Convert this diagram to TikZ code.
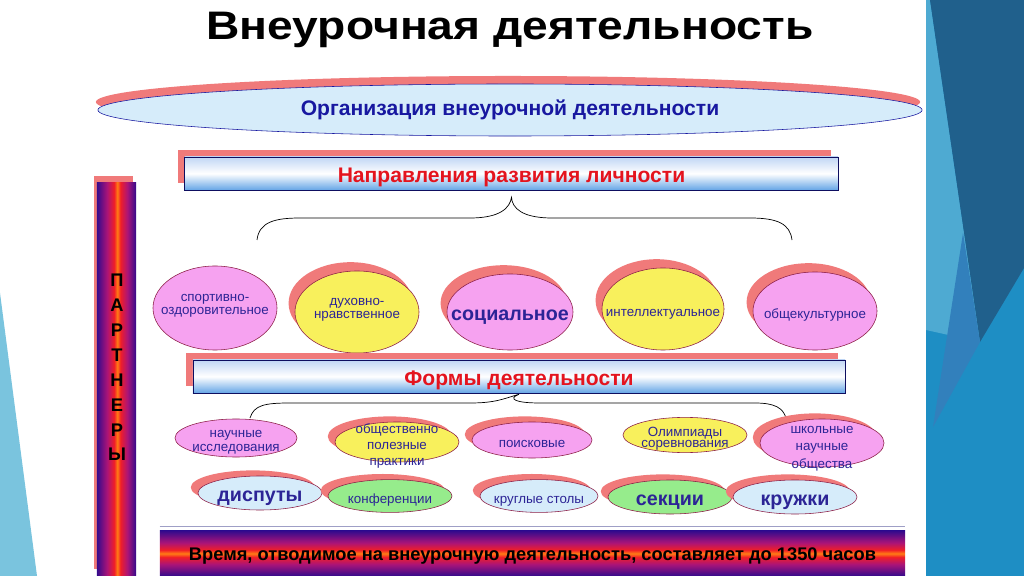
\documentclass[tikz,border=0pt]{standalone}
\usepackage{fontspec}
\setmainfont{Liberation Sans}
\newfontfamily\zagolovok[FakeStretch=1.16]{Liberation Sans}
\usetikzlibrary{shapes.geometric,shadows}

\definecolor{rozov}{RGB}{246,162,240}
\definecolor{zhelt}{RGB}{248,240,92}
\definecolor{goluboj}{RGB}{214,236,250}
\definecolor{zelen}{RGB}{150,236,140}
\definecolor{ten}{RGB}{240,122,122}
\definecolor{obvod}{RGB}{140,30,70}
\definecolor{sinij}{RGB}{44,36,150}
\definecolor{temnosin}{RGB}{24,24,160}
\definecolor{krasn}{RGB}{228,20,30}
\definecolor{polverh}{RGB}{192,214,245}
\definecolor{polniz}{RGB}{100,165,230}
\definecolor{barpurple}{RGB}{52,10,140}
\definecolor{barmagenta}{RGB}{170,20,120}
\definecolor{barred}{RGB}{240,30,40}
\definecolor{barorange}{RGB}{255,125,20}
\definecolor{fonsin}{RGB}{30,142,196}
\definecolor{fontemn}{RGB}{32,96,140}
\definecolor{fonsvet}{RGB}{78,170,210}
\definecolor{fonsred}{RGB}{50,128,188}
\definecolor{fonlevo}{RGB}{122,196,222}

\pgfdeclarehorizontalshading{partnershade}{100bp}{color(0bp)=(barpurple); color(25bp)=(barpurple);
  color(38bp)=(barmagenta); color(47bp)=(barred); color(51bp)=(barorange); color(55bp)=(barred);
  color(64bp)=(barmagenta); color(75bp)=(barpurple); color(100bp)=(barpurple)}
\pgfdeclareverticalshading{timeshade}{100bp}{color(0bp)=(barpurple); color(25bp)=(barpurple);
  color(38bp)=(barmagenta); color(46bp)=(barred); color(50bp)=(barorange); color(54bp)=(barred);
  color(62bp)=(barmagenta); color(75bp)=(barpurple); color(100bp)=(barpurple)}

% текст внутри овала не растягивает овал
\newcommand\odna[1]{\makebox[0pt]{#1}}
\newcommand\stroki[1]{\makebox[0pt]{\begin{tabular}{@{}c@{}}#1\end{tabular}}}

\begin{document}
\begin{tikzpicture}[x=0.025cm, y=-0.025cm,
    oval/.style={ellipse, draw=obvod, line width=0.4pt, inner sep=0pt,
      text=sinij, font=\fontsize{9.5}{9}\selectfont, text height=10.6pt, text depth=0pt},
    krup/.style={font=\fontsize{14}{14}\selectfont\bfseries, text height=11.6pt},
    sh/.style={drop shadow={shadow xshift=-0.16cm, shadow yshift=0.22cm, fill=ten, opacity=1}},
    shm/.style={drop shadow={shadow xshift=-0.18cm, shadow yshift=0.14cm, fill=ten, opacity=1}},
    polosa/.style={draw=temnosin!60!black, line width=0.5pt, top color=polverh,
      bottom color=polniz, middle color=white, inner sep=0pt, text=krasn,
      minimum height=0.83cm, font=\fontsize{15}{15}\selectfont\bfseries,
      text height=13.3pt, text depth=0pt,
      drop shadow={shadow xshift=-0.18cm, shadow yshift=0.18cm, fill=ten, opacity=1}},
    skobka/.style={line width=0.5pt, black}]
  \useasboundingbox (0,0) rectangle (1024,576);
  \fill[white] (0,0) rectangle (1024,576);
  % фон слайда
  \fill[fonlevo] (0,293) -- (37,576) -- (0,576) -- cycle;
  \fill[fonsin] (926,0) rectangle (1024,576);
  \fill[fonsvet] (926,0) -- (930,0) -- (980,342) -- (926,330) -- cycle;
  \fill[fontemn] (930,0) -- (1024,0) -- (1024,268) -- (980,342) -- cycle;
  \fill[fonsred] (963,233) -- (980,342) -- (933,427) -- cycle;

  % заголовок
  \node[font=\zagolovok\fontsize{28.3}{28.3}\selectfont\bfseries] (title) at (510,30) {Внеурочная деятельность};

  % организация
  \node[ellipse, draw=temnosin, fill=goluboj, minimum width=20.6cm, minimum height=1.3cm,
    drop shadow={shadow xshift=-0.05cm, shadow yshift=0.2cm, fill=ten, opacity=1},
    font=\fontsize{15}{15}\selectfont\bfseries, text=temnosin] (org) at (510,110)
    {Организация внеурочной деятельности};

  % направления
  \node[polosa, minimum width=16.33cm] (napr) at (511.5,173.5) {Направления развития личности};
  \coordinate (n1) at ([yshift=-0.17cm]napr.south);
  \draw[skobka] (257,240) .. controls (259,222) and (275,218) .. (300,218) -- (470,218)
    .. controls (500,218) and (510,208) .. (n1) .. controls (512,208) and (522,218) .. (552,218)
    -- (750,218) .. controls (778,218) and (790,224) .. (792,240);

  % партнеры
  \node[shade, shading=partnershade, minimum width=0.98cm, minimum height=9.83cm, inner sep=0pt,
    drop shadow={shadow xshift=-0.08cm, shadow yshift=0.18cm, fill=ten, opacity=1}]
    (partn) at (116.5,379.5) {};
  \node[font=\fontsize{13}{17.7}\selectfont\bfseries, align=center, inner sep=0pt] (partntxt)
    at (117,367.5) {П\\А\\Р\\Т\\Н\\Е\\Р\\Ы};

  % направления развития
  \node[oval, fill=rozov, minimum width=3.1cm, minimum height=2.1cm, text height=0.6pt]
    (sport) at (215,308) {\stroki{спортивно-\\оздоровительное}};
  \node[oval, sh, fill=zhelt, minimum width=3.1cm, minimum height=2.05cm, text height=0.6pt]
    (duh) at (357,312) {\stroki{духовно-\\нравственное}};
  \node[oval, sh, krup, fill=rozov, minimum width=3.15cm, minimum height=1.9cm] (soc) at (510,312)
    {\odna{социальное}};
  \node[oval, sh, fill=zhelt, minimum width=3.05cm, minimum height=2.05cm] (intel) at (663,309)
    {\odna{интеллектуальное}};
  \node[oval, sh, fill=rozov, minimum width=3.1cm, minimum height=1.95cm] (obsh) at (815,311)
    {\odna{общекультурное}};

  % формы
  \node[polosa, minimum width=16.3cm] (formy) at (519,376.5) {Формы деятельности};
  \coordinate (n2) at ([yshift=-0.02cm]formy.south);
  \draw[skobka] (250,418) .. controls (254,405) and (265,403) .. (290,403) -- (470,403)
    .. controls (495,403) and (503,399) .. (n2) .. controls (507,399) and (516,403) .. (540,403)
    -- (755,403) .. controls (775,403) and (783,408) .. (786,418);

  \node[oval, fill=rozov, minimum width=3.05cm, minimum height=0.95cm, text height=10.35pt,
    font=\fontsize{9.5}{10}\selectfont] (nauch) at (236,438) {\stroki{научные\\исследования}};
  \node[oval, shm, fill=zhelt, minimum width=3.1cm, minimum height=1.0cm, text height=10.35pt,
    font=\fontsize{9.5}{11.6}\selectfont] (polez) at (397,442) {\stroki{общественно\\полезные\\практики}};
  \node[oval, shm, fill=rozov, minimum width=3.0cm, minimum height=0.9cm] (poisk) at (532,440)
    {\odna{поисковые}};
  \node[oval, fill=zhelt, minimum width=3.1cm, minimum height=0.88cm, text height=10.35pt,
    font=\fontsize{9.5}{8.5}\selectfont] (olimp) at (685,435) {\stroki{Олимпиады\\соревнования}};
  \node[oval, shm, fill=rozov, minimum width=3.1cm, minimum height=1.2cm, text height=10.35pt,
    font=\fontsize{9.5}{12.4}\selectfont] (shkol) at (822,443) {\stroki{школьные\\научные\\общества}};

  \node[oval, shm, krup, fill=goluboj, minimum width=3.1cm, minimum height=0.85cm] (disp) at (260,493)
    {\odna{диспуты}};
  \node[oval, shm, fill=zelen, minimum width=3.1cm, minimum height=0.82cm] (konf) at (390,496)
    {\odna{конференции}};
  \node[oval, shm, fill=goluboj, minimum width=2.95cm, minimum height=0.82cm] (stol) at (539,496)
    {\odna{круглые столы}};
  \node[oval, shm, krup, fill=zelen, minimum width=3.1cm, minimum height=0.85cm] (sekc) at (670,497)
    {\odna{секции}};
  \node[oval, shm, krup, fill=goluboj, minimum width=3.1cm, minimum height=0.85cm] (kruzh) at (795,497)
    {\odna{кружки}};

  % время
  \node[shade, shading=timeshade, minimum width=18.63cm, minimum height=1.125cm, inner sep=0pt,
    text height=9.4pt, text depth=0pt, font=\fontsize{13}{13}\selectfont\bfseries] (vremya) at (532.5,553.5)
    {Время, отводимое на внеурочную деятельность, составляет до 1350 часов};
  \draw[blue!25!gray!60, line width=0.6pt] ([yshift=0.1cm]vremya.north west) -- ([yshift=0.1cm]vremya.north east);
\end{tikzpicture}
\end{document}
